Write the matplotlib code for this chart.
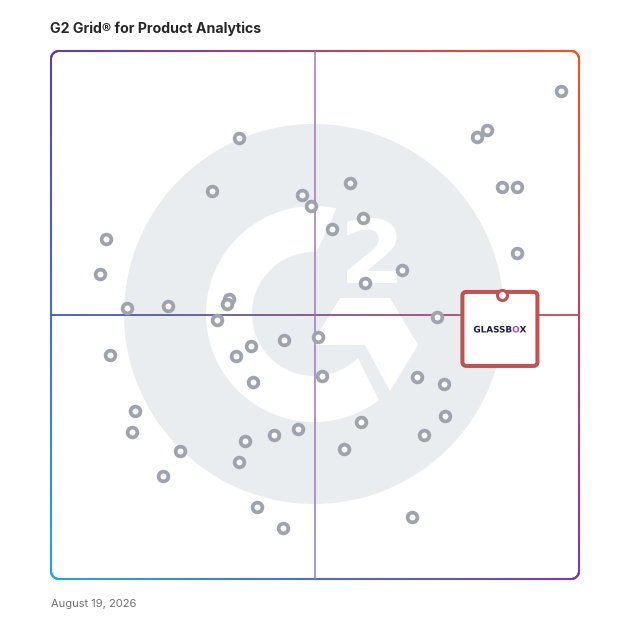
import numpy as np
import matplotlib
matplotlib.use('Agg')
import matplotlib.pyplot as plt
import matplotlib.colors as mcolors
from matplotlib.collections import LineCollection
from matplotlib.patches import Circle, Polygon, FancyBboxPatch, PathPatch
from matplotlib.textpath import TextPath, text_to_path
from matplotlib.font_manager import FontProperties
from matplotlib.transforms import Affine2D

title = 'G2 Grid® for Product Analytics'
date_label = 'August 19, 2026'

# x = satisfaction, y = market presence (0-100, grid midpoint at 50)
satisfaction = [96.6, 82.6, 80.6, 35.7, 30.4, 47.6, 49.2, 56.7, 85.5, 88.2,
                59.0, 53.2, 10.4, 9.3, 66.5, 59.4, 88.3, 14.3, 22.1, 33.7,
                33.4, 31.5, 73.2, 44.1, 50.6, 37.8, 35.0, 11.2, 51.3, 38.3,
                69.3, 74.4, 16.0, 15.4, 74.6, 58.7, 46.8, 42.3, 36.7, 70.6,
                55.4, 24.5, 35.7, 21.2, 39.1, 43.9, 68.4]
market_presence = [92.4, 85.0, 83.7, 83.5, 73.5, 72.7, 70.6, 75.0, 74.2, 74.2,
                   68.3, 66.3, 64.4, 57.8, 58.5, 56.1, 61.7, 51.4, 51.7, 53.0,
                   52.0, 49.0, 49.7, 45.3, 45.9, 44.1, 42.2, 42.4, 38.5, 37.3,
                   38.3, 37.0, 31.9, 27.8, 30.9, 29.8, 28.5, 27.2, 26.1, 27.3,
                   24.6, 24.2, 22.2, 19.5, 13.6, 9.7, 11.7]

highlight_name = ['GLASSB', 'O', 'X']
highlight_colors = ['#1c1a48', '#b04ad8', '#1c1a48']
highlight_x = 85.4
highlight_y = 53.8
midpoint = 50

# Frame gradient corner colours
corner = {'tl': '#5b3eb3', 'tr': '#ff4d21', 'bl': '#27a4e0', 'br': '#7b3aa6'}

W = 628
x0, y0, x1, y1 = 51, 51, 579, 579   # frame in pixels


def bilinear(u, v):
    tl, tr, bl, br = [np.array(mcolors.to_rgb(corner[k])) for k in ('tl', 'tr', 'bl', 'br')]
    top = tl * (1 - u) + tr * u
    bot = bl * (1 - u) + br * u
    return np.clip(top * (1 - v) + bot * v, 0, 1)


def densify(pts, step=2.0):
    out = [pts[0]]
    for p, q in zip(pts[:-1], pts[1:]):
        n = max(1, int(np.hypot(*(q - p)) / step))
        for t in np.linspace(0, 1, n + 1)[1:]:
            out.append(p + (q - p) * t)
    return np.array(out)


def rounded_rect(r=8, n=20):
    pts = []
    for cx, cy, a0 in [(x1 - r, y0 + r, 270), (x1 - r, y1 - r, 0),
                       (x0 + r, y1 - r, 90), (x0 + r, y0 + r, 180)]:
        a = np.radians(np.linspace(a0, a0 + 90, n))
        pts += list(zip(cx + r * np.cos(a), cy + r * np.sin(a)))
    pts.append(pts[0])
    return densify(np.array(pts))


def gradient_segments(pts, colfunc):
    segs = np.stack([pts[:-1], pts[1:]], axis=1)
    mids = (pts[:-1] + pts[1:]) / 2
    cols = [colfunc(m) for m in mids]
    return segs, cols


fig = plt.figure(figsize=(6.28, 6.28), dpi=100)
bg = fig.add_axes([0, 0, 1, 1])
bg.set_xlim(0, W)
bg.set_ylim(W, 0)
bg.axis('off')

# ---- G2 watermark ----
cx, cy = 314, 314
bg.add_patch(Circle((cx, cy), 190, color='#eaedf0', lw=0, zorder=0))

# the "G" ring, ends cut at a slant
a_out = np.radians(np.linspace(78, 307, 120))
a_in = np.radians(np.linspace(315, 87.5, 120))
ring = [(cx + 108 * np.cos(a), cy - 108 * np.sin(a)) for a in a_out]
ring += [(cx + 62 * np.cos(a), cy - 62 * np.sin(a)) for a in a_in]
bg.add_patch(Polygon(ring, closed=True, color='white', lw=0, zorder=1))

# the chevron / crossbar of the G
chev = [(340, 298), (390, 298), (418, 345), (390, 391), (365, 345),
        (316, 345), (316, 337)]
bg.add_patch(Polygon(chev, closed=True, color='white', lw=0, zorder=1))

# the superscript "2"
tp = TextPath((0, 0), '2', size=100, prop=FontProperties(family='DejaVu Sans', weight='bold'))
ext = tp.get_extents()
tr2 = Affine2D().translate(-ext.x0, -ext.y1).scale(50 / ext.width, -65 / ext.height).translate(347, 218)
bg.add_patch(PathPatch(tr2.transform_path(tp), color='white', lw=0, zorder=1))

# ---- gradient frame ----
fpts = rounded_rect()
segs, cols = gradient_segments(fpts, lambda m: bilinear((m[0] - x0) / (x1 - x0), (m[1] - y0) / (y1 - y0)))
bg.add_collection(LineCollection(segs, colors=cols, linewidths=1.5, capstyle='round', zorder=3))

# ---- texts ----
bg.text(x0 - 0.5, 29, title, fontsize=10.2, fontweight='bold', family='Inter',
        color='#262626', ha='left', va='center')
bg.text(x0, 604, date_label, fontsize=8, family='Inter',
        color='#6e6e6e', ha='left', va='center')

# ---- data axes ----
ax = fig.add_axes([x0 / W, (W - y1) / W, (x1 - x0) / W, (y1 - y0) / W])
ax.set_xlim(0, 100)
ax.set_ylim(0, 100)
ax.patch.set_alpha(0)
ax.axis('off')

# crosshair lines
xs = np.linspace(0, 100, 200)
hpts = np.column_stack([xs, np.full_like(xs, midpoint)])
hleft, hright = np.array(mcolors.to_rgb('#3b5cb2')), np.array(mcolors.to_rgb('#c4485a'))
segs, cols = gradient_segments(hpts, lambda m: hleft + (hright - hleft) * m[0] / 100)
ax.add_collection(LineCollection(segs, colors=cols, linewidths=1.3, zorder=2))

vpts = np.column_stack([np.full_like(xs, midpoint), xs])
vbot, vtop = np.array(mcolors.to_rgb('#8a7cc2')), np.array(mcolors.to_rgb('#a876aa'))
segs, cols = gradient_segments(vpts, lambda m: vbot + (vtop - vbot) * m[1] / 100)
ax.add_collection(LineCollection(segs, colors=cols, linewidths=1.1, zorder=2))

# vendors
ax.plot(satisfaction, market_presence, 'o', ms=7.0, mfc='white', mec='#9ea3ae',
        mew=2.7, zorder=4, clip_on=False)

# highlighted vendor box, placed relative to its marker in pixels
mx, my = bg.transData.inverted().transform(ax.transData.transform((highlight_x, highlight_y)))
box = FancyBboxPatch((mx - 39.5, my - 3), 75, 74, boxstyle='round,pad=0,rounding_size=4',
                     transform=bg.transData, fc='white', ec='#c4504f', lw=2.9, zorder=5,
                     clip_on=False)
ax.add_patch(box)
ax.plot([highlight_x], [highlight_y], 'o', ms=7.2, mfc='white', mec='#c4504f', mew=2.2,
        zorder=6, clip_on=False)

# vendor logo text, built from glyph paths so the coloured "O" sits flush
prop = FontProperties(family='DejaVu Sans', weight='bold')
fsize = 10
widths = [text_to_path.get_text_width_height_descent(s, prop, ismath=False)[0] * fsize / prop.get_size_in_points()
          for s in highlight_name]
total = sum(widths)
scale = 53.0 / total
cap = 7.0
left = mx - 2 - 26.5
pos = 0
for s, w, c in zip(highlight_name, widths, highlight_colors):
    p = TextPath((pos, 0), s, size=fsize, prop=prop)
    t = Affine2D().scale(scale, -scale).translate(left, my + 34 + cap / 2)
    ax.add_patch(PathPatch(t.transform_path(p), transform=bg.transData, fc=c, lw=0,
                           zorder=7, clip_on=False))
    pos += w

fig.savefig('out.png', dpi=100)
